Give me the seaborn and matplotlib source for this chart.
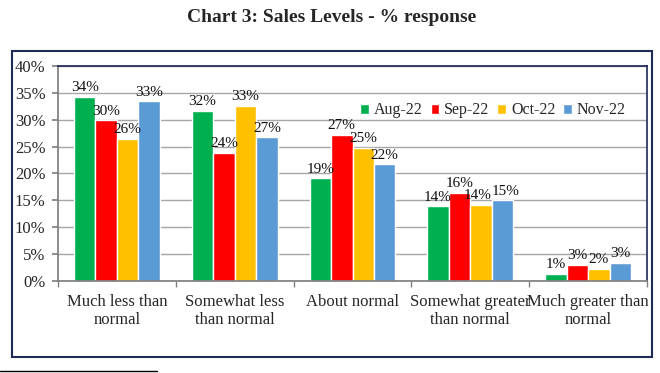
import numpy as np
import pandas as pd
import seaborn as sns
import matplotlib.pyplot as plt
from matplotlib.patches import Rectangle
from matplotlib.lines import Line2D

# data
categories = ['Much less than\nnormal', 'Somewhat less\nthan normal', 'About normal',
              'Somewhat greater\nthan normal', 'Much greater than\nnormal']
months = ['Aug-22', 'Sep-22', 'Oct-22', 'Nov-22']
aug = [34.2, 31.6, 19.1, 13.9, 1.3]
sep = [29.9, 23.8, 27.2, 16.4, 3.0]
octo = [26.4, 32.6, 24.8, 14.1, 2.3]
nov = [33.4, 26.7, 21.7, 15.0, 3.3]
labels = [['34%', '32%', '19%', '14%', '1%'],
          ['30%', '24%', '27%', '16%', '3%'],
          ['26%', '33%', '25%', '14%', '2%'],
          ['33%', '27%', '22%', '15%', '3%']]
colors = ['#00B050', '#FF0000', '#FFC000', '#5B9BD5']

df = pd.DataFrame({'cat': categories * 4,
                   'month': np.repeat(months, 5),
                   'value': aug + sep + octo + nov})

sns.set_theme(style='white')
plt.rcParams['font.family'] = ['Liberation Serif', 'DejaVu Serif']

fig = plt.figure(figsize=(6.6, 3.73), dpi=100)
ax = fig.add_axes([58 / 660, 1 - 281 / 373, (647 - 58) / 660, (281 - 66) / 373])

sns.barplot(data=df, x='cat', y='value', hue='month', palette=colors,
            width=0.73, gap=0, saturation=1, ax=ax)

all_texts = []
for cont, labs in zip(ax.containers, labels):
    all_texts.append(ax.bar_label(cont, labels=labs, padding=2, fontsize=11, color='#111111'))
# pull apart the tight pair in the 4th group
all_texts[2][3].xyann = (-2.5, 2)
all_texts[3][3].xyann = (2.5, 2)

ax.set_ylim(0, 40)
ax.set_yticks(range(0, 41, 5))
ax.set_yticklabels([f'{v}%' for v in range(0, 41, 5)], fontsize=12)
ax.set_xlim(-0.5, 4.5)
ax.set_xlabel('')
ax.set_ylabel('')
ax.tick_params(axis='x', labelsize=12, length=0, pad=9)
ax.tick_params(axis='y', length=4, color='#808080', pad=5, left=True)
ax.set_xticks(np.arange(-0.5, 5, 1), minor=True)
ax.tick_params(axis='x', which='minor', length=4, color='#808080', bottom=True)
ax.yaxis.grid(True, color='#A6A6A6', linewidth=1)
ax.set_axisbelow(True)
for s in ['left', 'bottom']:
    ax.spines[s].set_color('#808080')
for s in ['top', 'right']:
    ax.spines[s].set_color('#1F2A55')
ax.spines['right'].set_linewidth(1.2)

leg = ax.legend(loc='upper right', bbox_to_anchor=(0.975, 0.86), ncol=4, frameon=False,
                fontsize=11.5, handlelength=0.55, handleheight=0.55, handletextpad=0.3,
                columnspacing=0.5, borderaxespad=0)

# outer chart box
fig.patches.append(Rectangle((12 / 660, 1 - 357 / 373), (652 - 12) / 660, (357 - 51) / 373,
                             transform=fig.transFigure, fill=False, edgecolor='#1F2A55',
                             linewidth=1.5))
# footnote separator line
fig.lines.append(Line2D([0, 157 / 660], [1 - 371 / 373] * 2, transform=fig.transFigure,
                        color='black', linewidth=1))

fig.text(0.503, 1 - 18 / 373, 'Chart 3: Sales Levels - % response', ha='center', va='center',
         fontsize=14, fontweight='bold')

fig.savefig('out.png', dpi=100)
